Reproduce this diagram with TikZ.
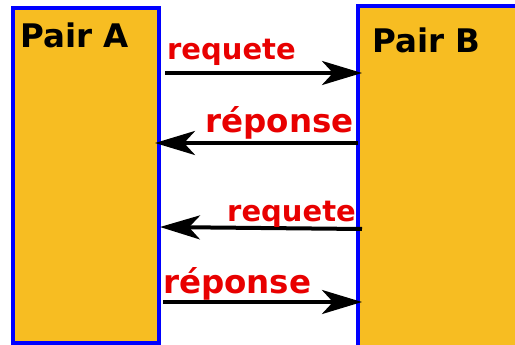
\documentclass[tikz,border=0pt]{standalone}
\usepackage{fontspec}
\setmainfont{DejaVu Sans}
\usetikzlibrary{positioning,arrows.meta}

\definecolor{pairfill}{RGB}{247,189,34}
\definecolor{msgred}{RGB}{232,0,0}

\begin{document}
\begin{tikzpicture}[
    x=1pt, y=-1pt,
    box/.style={draw=blue, fill=pairfill, line width=4pt, rectangle, inner sep=0pt},
    arrow/.style={-{Stealth[length=40pt, width=24pt, inset=11pt]}, line width=4pt},
    title/.style={font=\bfseries\fontsize{32.5}{32.5}\selectfont, inner sep=0pt},
    msg/.style={font=\bfseries\fontsize{29}{29}\selectfont, text=msgred, inner sep=0pt},
    rep/.style={font=\bfseries\fontsize{32.5}{32.5}\selectfont, text=msgred, inner sep=0pt}
]
\useasboundingbox (0,0) rectangle (515,345);

% The two peers
\node[box, minimum width=145.5pt, minimum height=335pt] (pairA) at (85.75,175.5) {};
\node[box, minimum width=167pt, minimum height=349pt] (pairB) at (441.5,180.5) {};
\node[title, anchor=base west] (labelA) at (20,48) {Pair A};
\node[title, anchor=base west] (labelB) at (372,53) {Pair B};

% Arrow ends
\coordinate (a1) at (165,73);
\coordinate (b1) at (362,73);
\coordinate (b2) at (358,143);
\coordinate (a2) at (155,143);
\coordinate (b3) at (362,229);
\coordinate (a3) at (160,227);
\coordinate (a4) at (163,302);
\coordinate (b4) at (362,302);

% Messages
\draw[arrow] (a1) -- (b1);
\draw[arrow] (b2) -- (a2);
\draw[arrow] (b3) -- (a3);
\draw[arrow] (a4) -- (b4);

% Message labels
\node[msg, anchor=base west] (req1) at (167,60) {requete};
\node[rep, anchor=base east] (rep1) at (354,132) {réponse};
\node[msg, anchor=base east] (req2) at (356,222) {requete};
\node[rep, anchor=base west] (rep2) at (163,293) {réponse};

\end{tikzpicture}
\end{document}
